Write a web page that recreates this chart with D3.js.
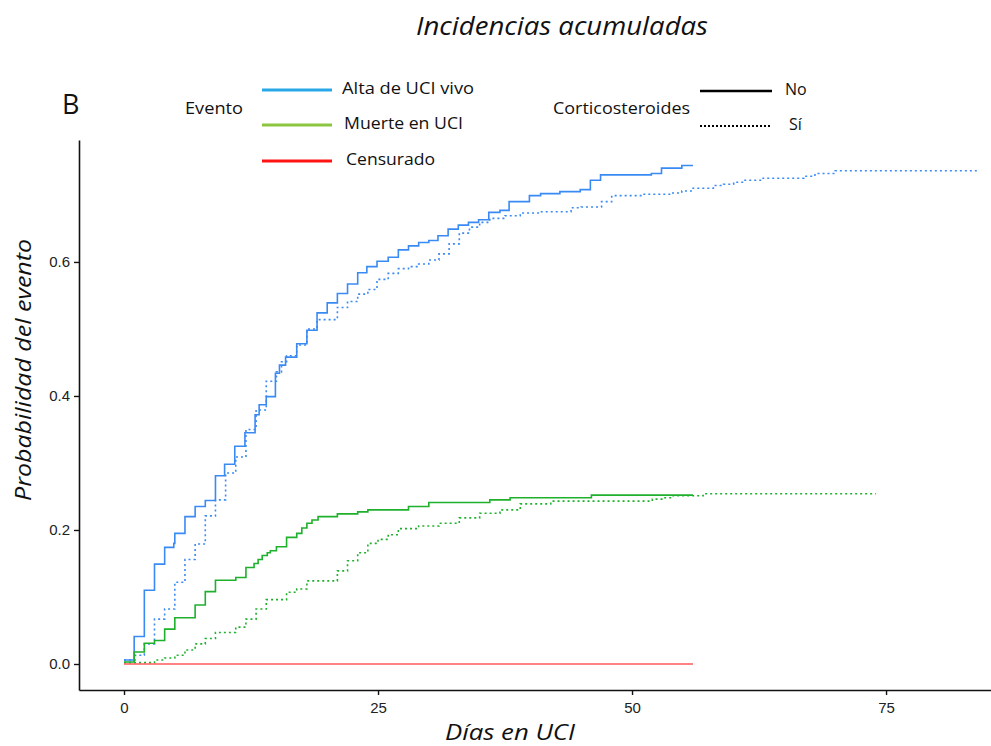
<!DOCTYPE html>
<html>
<head>
<meta charset="utf-8">
<script src="https://cdn.jsdelivr.net/npm/d3@7"></script>
<style>
  html, body { margin: 0; padding: 0; background: #ffffff; }
  svg { display: block; }
  .txt { font-family: "Open Sans", "Lato", sans-serif; fill: #111; }
  .tick text { font-family: "Liberation Sans", Arial, sans-serif; font-size: 15px; fill: #222; }
</style>
</head>
<body>
<svg id="chart" width="991" height="746"></svg>
<script>
// Cumulative incidence step curves: [day, cumulative probability]
const altaNo = [[0,0.006],[1,0.041],[2,0.110],[3,0.149],[4,0.174],[4.9,0.180],[5,0.195],[6,0.220],[7,0.235],[8,0.244],[9,0.281],[9.9,0.298],[10.9,0.325],[11.9,0.345],[12.9,0.372],[13.3,0.387],[14,0.399],[14.9,0.434],[15.3,0.446],[15.9,0.458],[17,0.478],[18,0.498],[19,0.524],[20,0.539],[21,0.553],[22,0.567],[23,0.584],[23.9,0.593],[24.9,0.601],[26,0.607],[27,0.618],[28,0.624],[29,0.629],[30,0.632],[30.9,0.639],[31.9,0.649],[32.9,0.655],[33.9,0.659],[34.9,0.663],[35.9,0.674],[37,0.677],[37.9,0.690],[39.9,0.699],[41,0.702],[42.9,0.705],[44.9,0.708],[45.9,0.722],[46.9,0.730],[51.9,0.732],[52.9,0.740],[54.9,0.744],[56,0.744]];
const altaSi = [[0,0.006],[1.1,0.013],[2,0.030],[3,0.067],[4,0.082],[5,0.122],[6,0.156],[7,0.179],[8,0.221],[9,0.245],[10,0.285],[11,0.309],[12,0.350],[13,0.379],[14,0.422],[15,0.436],[15.5,0.451],[16,0.460],[17,0.476],[18,0.500],[19,0.514],[21,0.532],[22,0.541],[23,0.552],[24,0.559],[24.9,0.574],[26,0.583],[27,0.590],[28,0.593],[29,0.597],[30,0.603],[31,0.612],[32,0.627],[33,0.643],[34,0.652],[35,0.659],[36,0.665],[37.5,0.669],[39,0.673],[41,0.675],[44,0.681],[45,0.682],[47,0.690],[48,0.699],[51,0.701],[53.9,0.703],[54.9,0.706],[55.9,0.710],[58,0.714],[59,0.716],[60,0.719],[61,0.722],[62.9,0.725],[66.9,0.728],[68,0.732],[70,0.736],[84,0.736]];
const muerteNo = [[0,0.003],[1,0.018],[2,0.031],[3,0.035],[4,0.052],[5,0.069],[7,0.088],[8,0.108],[9,0.125],[11,0.129],[12,0.144],[12.8,0.150],[13.2,0.156],[13.6,0.162],[14.1,0.166],[14.4,0.169],[15,0.175],[16,0.189],[17,0.195],[17.5,0.203],[18,0.210],[18.5,0.215],[19.1,0.220],[21,0.224],[23,0.227],[24,0.230],[28,0.235],[30,0.241],[36,0.245],[38,0.248],[46,0.252],[56,0.252]];
const muerteSi = [[0,0.002],[3,0.006],[4,0.009],[5,0.013],[6,0.021],[7,0.030],[8,0.038],[9,0.047],[11,0.055],[12,0.067],[13,0.082],[14,0.096],[16,0.107],[17,0.112],[18,0.124],[21,0.139],[22,0.154],[23,0.166],[24,0.180],[25,0.186],[26,0.193],[27,0.202],[29,0.206],[31,0.210],[33,0.218],[35,0.225],[37,0.230],[39,0.239],[42,0.243],[52,0.246],[53,0.248],[54,0.251],[57,0.254],[74,0.254]];
const censuradoNo = [[0,0],[56,0]];

const xTicks = [0, 25, 50, 75];
const yTicks = [0, 0.2, 0.4, 0.6];

const eventoLabels = ["Alta de UCI vivo", "Muerte en UCI", "Censurado"];
const eventoColors = ["#29a8e8", "#8cc540", "#ff1414"];
const corticoLabels = ["No", "Sí"];

const svg = d3.select("#chart");

const x = d3.scaleLinear().domain([-4.43, 85.33]).range([79, 991]);
const y = d3.scaleLinear().domain([-0.0388, 0.782]).range([690, 140]);

// Axes
const xAxis = d3.axisBottom(x).tickValues(xTicks).tickFormat(d3.format("d"))
  .tickSizeInner(5).tickSizeOuter(0).tickPadding(4);
const yAxis = d3.axisLeft(y).tickValues(yTicks).tickFormat(d3.format(".1f"))
  .tickSizeInner(5).tickSizeOuter(0).tickPadding(4);

const gx = svg.append("g").attr("transform", "translate(0,690)").call(xAxis);
const gy = svg.append("g").attr("transform", "translate(79,0)").call(yAxis);
[gx, gy].forEach(g => {
  g.select(".domain").attr("stroke", "#111").attr("stroke-width", 1.6);
  g.selectAll(".tick line").attr("stroke", "#111").attr("stroke-width", 1.4);
});
gx.selectAll(".tick text").attr("dy", "0.9em");

// Step lines
const line = d3.line().x(d => x(d[0])).y(d => y(d[1])).curve(d3.curveStepAfter);

const series = [
  { data: altaNo, color: "#3a8af4", dash: null },
  { data: altaSi, color: "#3a8af4", dash: "2,3" },
  { data: muerteNo, color: "#1fb02c", dash: null },
  { data: muerteSi, color: "#1fb02c", dash: "2,3" },
  { data: censuradoNo, color: "#ff5a5a", dash: null }
];

svg.append("g").selectAll("path").data(series).join("path")
  .attr("d", s => line(s.data))
  .attr("fill", "none")
  .attr("stroke", s => s.color)
  .attr("stroke-width", 1.6)
  .attr("stroke-dasharray", s => s.dash);

// Titles
svg.append("text").attr("class", "txt")
  .attr("x", 562).attr("y", 35).attr("text-anchor", "middle")
  .attr("font-size", 25).attr("font-style", "italic")
  .attr("textLength", 292).attr("lengthAdjust", "spacingAndGlyphs")
  .text("Incidencias acumuladas");

svg.append("text").attr("class", "txt")
  .attr("x", 510).attr("y", 740).attr("text-anchor", "middle")
  .attr("font-size", 21).attr("font-style", "italic")
  .attr("textLength", 130).attr("lengthAdjust", "spacingAndGlyphs")
  .text("Días en UCI");

svg.append("text").attr("class", "txt")
  .attr("transform", "translate(31,370) rotate(-90)").attr("text-anchor", "middle")
  .attr("font-size", 21).attr("font-style", "italic")
  .attr("textLength", 262).attr("lengthAdjust", "spacingAndGlyphs")
  .text("Probabilidad del evento");

svg.append("text").attr("class", "txt")
  .attr("x", 62).attr("y", 114).attr("font-size", 27)
  .text("B");

// Legend: Evento
svg.append("text").attr("class", "txt")
  .attr("x", 185).attr("y", 114).attr("font-size", 16)
  .attr("textLength", 58).attr("lengthAdjust", "spacingAndGlyphs")
  .text("Evento");

const legY = [90, 125, 161];
const legW = [132, 119, 89];
const ev = svg.append("g");
eventoLabels.forEach((lab, i) => {
  ev.append("line").attr("x1", 262).attr("x2", 332)
    .attr("y1", legY[i]).attr("y2", legY[i])
    .attr("stroke", eventoColors[i]).attr("stroke-width", 3);
  ev.append("text").attr("class", "txt")
    .attr("x", 342 + i * 2).attr("y", legY[i] + 2).attr("dy", "0.1em")
    .attr("font-size", 16)
    .attr("textLength", legW[i]).attr("lengthAdjust", "spacingAndGlyphs")
    .text(lab);
});

// Legend: Corticosteroides
svg.append("text").attr("class", "txt")
  .attr("x", 553).attr("y", 114).attr("font-size", 16)
  .attr("textLength", 137).attr("lengthAdjust", "spacingAndGlyphs")
  .text("Corticosteroides");

const ctY = [91, 126];
const ct = svg.append("g");
corticoLabels.forEach((lab, i) => {
  ct.append("line").attr("x1", 700).attr("x2", 772)
    .attr("y1", ctY[i]).attr("y2", ctY[i])
    .attr("stroke", "#000").attr("stroke-width", i === 0 ? 2.5 : 2)
    .attr("stroke-dasharray", i === 0 ? null : "2,2");
  ct.append("text").attr("class", "txt")
    .attr("x", 785 + i * 4).attr("y", ctY[i] + 2).attr("dy", "0.1em")
    .attr("font-size", 16)
    .text(lab);
});
</script>
</body>
</html>
